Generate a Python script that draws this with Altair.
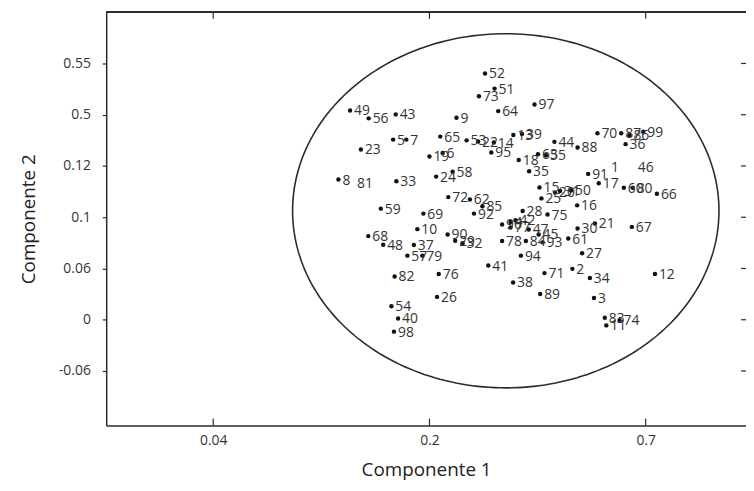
import altair as alt
import pandas as pd
import numpy as np

# Observation labels and their scores (axis units = tick index positions)
labels = ["49","56","43","9","5","7","65","53","22","14","95","13","39","44","88","63","55","18","35","70",
          "87","86","99","36","1","46","91","17","60","80","66","51","52","73","64","97","23","8","81","33",
          "24","58","19","6","72","62","85","92","59","69","10","68","48","37","57","79","90","29","32","82",
          "76","26","54","40","98","41","94","38","89","71","2","34","3","12","27","61","30","21","67","16",
          "75","28","42","4","96","77","47","45","78","84","93","15","25","20","31","50","83","74","11"]
comp1 = [1.633,1.719,1.844,2.125,1.832,1.893,2.050,2.172,2.225,2.298,2.286,2.388,2.428,2.578,2.685,2.502,2.539,2.413,2.461,2.777,
         2.887,2.925,2.989,2.907,2.821,2.945,2.734,2.783,2.899,2.940,3.052,2.301,2.257,2.229,2.318,2.486,1.683,1.579,1.647,1.847,
         2.031,2.107,2.000,2.061,2.087,2.187,2.245,2.206,1.775,1.972,1.944,1.717,1.786,1.928,1.898,1.967,2.084,2.119,2.153,1.839,
         2.043,2.035,1.824,1.855,1.836,2.272,2.423,2.387,2.512,2.532,2.661,2.742,2.761,3.043,2.706,2.642,2.685,2.765,2.936,2.683,
         2.546,2.431,2.398,2.375,2.336,2.375,2.459,2.505,2.336,2.446,2.523,2.509,2.518,2.581,2.604,2.655,2.811,2.879,2.818]
comp2 = [5.084,4.929,5.007,4.941,4.515,4.515,4.573,4.500,4.477,4.457,4.264,4.606,4.626,4.471,4.360,4.229,4.209,4.117,3.896,4.639,
         4.639,4.600,4.670,4.426,3.987,3.987,3.846,3.664,3.575,3.575,3.458,5.510,5.806,5.361,5.071,5.200,4.322,3.735,3.677,3.702,
         3.793,3.890,4.186,4.252,3.393,3.348,3.213,3.071,3.168,3.071,2.768,2.632,2.464,2.458,2.251,2.251,2.665,2.541,2.491,1.844,
         1.891,1.446,1.264,1.026,0.768,2.057,2.251,1.728,1.504,1.910,1.993,1.813,1.426,1.891,2.297,2.584,2.781,2.878,2.812,3.232,
         3.052,3.122,2.942,2.909,2.859,2.800,2.762,2.665,2.535,2.535,2.510,3.580,3.368,3.484,3.513,3.522,1.039,0.993,0.890]
no_marker = ["1", "46", "81"]

x_tick_pos = [1, 2, 3]
x_tick_labels = ["0.04", "0.2", "0.7"]
y_tick_pos = [0, 1, 2, 3, 4, 5, 6]
y_tick_labels = ["-0.06", "0", "0.06", "0.1", "0.12", "0.5", "0.55"]

ellipse_center = (2.353, 3.126)
ellipse_radii = (0.986, 3.455)

x_domain = [0.505, 3.464]
y_domain = [-1.064, 7.006]
W, H = 645, 417
FONT = "Open Sans"
INK = "#2b2b2b"

pts = pd.DataFrame({"label": labels, "x": comp1, "y": comp2})
pts["dot"] = ~pts["label"].isin(no_marker)

t = np.linspace(0, 2 * np.pi, 241)
ell = pd.DataFrame({"i": np.arange(len(t)),
                    "x": ellipse_center[0] + ellipse_radii[0] * np.cos(t),
                    "y": ellipse_center[1] + ellipse_radii[1] * np.sin(t)})

xt = pd.DataFrame({"x": x_tick_pos})
yt = pd.DataFrame({"y": y_tick_pos})

x_expr = "[" + ",".join("'%s'" % s for s in x_tick_labels) + "][datum.value - 1]"
y_expr = "[" + ",".join("'%s'" % s for s in y_tick_labels) + "][datum.value]"

xscale = alt.Scale(domain=x_domain, nice=False, zero=False)
yscale = alt.Scale(domain=y_domain, nice=False, zero=False)
xaxis = alt.Axis(values=x_tick_pos, labelExpr=x_expr, title="Componente 1", grid=False,
                 tickSize=0, labelPadding=8, titlePadding=13)
yaxis = alt.Axis(values=y_tick_pos, labelExpr=y_expr, title="Componente 2", grid=False,
                 tickSize=4, labelPadding=12, titlePadding=20)

def X(f="x"):
    return alt.X(f, type="quantitative", scale=xscale, axis=xaxis)

def Y(f="y"):
    return alt.Y(f, type="quantitative", scale=yscale, axis=yaxis)

ellipse = alt.Chart(ell).mark_line(color=INK, strokeWidth=1.6).encode(x=X(), y=Y(), order="i:Q")

top_frame = alt.Chart(xt).mark_rule(color=INK, strokeWidth=1.5).encode(
    x=alt.value(0), x2=alt.value(W), y=alt.value(0))
bottom_ticks = alt.Chart(xt).mark_rule(color=INK, strokeWidth=1.2).encode(
    x=X(), y=alt.value(H), y2=alt.value(H - 7))
top_ticks = alt.Chart(xt).mark_rule(color=INK, strokeWidth=1.2).encode(
    x=X(), y=alt.value(0), y2=alt.value(7))
right_ticks = alt.Chart(yt).mark_rule(color=INK, strokeWidth=1.2).encode(
    y=Y(), x=alt.value(W - 5), x2=alt.value(W + 2))

dots = alt.Chart(pts).transform_filter("datum.dot").mark_circle(
    size=20, color="#111111", opacity=1).encode(x=X(), y=Y())
text = alt.Chart(pts).mark_text(align="left", baseline="middle", dx=4, dy=1,
                                fontSize=14, font=FONT, color="#333333").encode(
    x=X(), y=Y(), text="label:N")

chart = alt.layer(ellipse, top_frame, top_ticks, bottom_ticks, right_ticks, dots, text).properties(
    width=W, height=H,
    autosize=alt.AutoSizeParams(type="none"),
    padding={"left": 99, "top": 2, "right": 0, "bottom": 60},
).configure_view(stroke=None).configure_axis(
    domainColor=INK, domainWidth=1.5, tickColor=INK, tickWidth=1.2,
    labelFont=FONT, labelFontSize=14, labelColor="#333333",
    titleFont=FONT, titleFontSize=19, titleFontWeight="normal", titleColor="#222222",
)

chart.save("out.html", embed_options={"renderer": "svg", "actions": False})
